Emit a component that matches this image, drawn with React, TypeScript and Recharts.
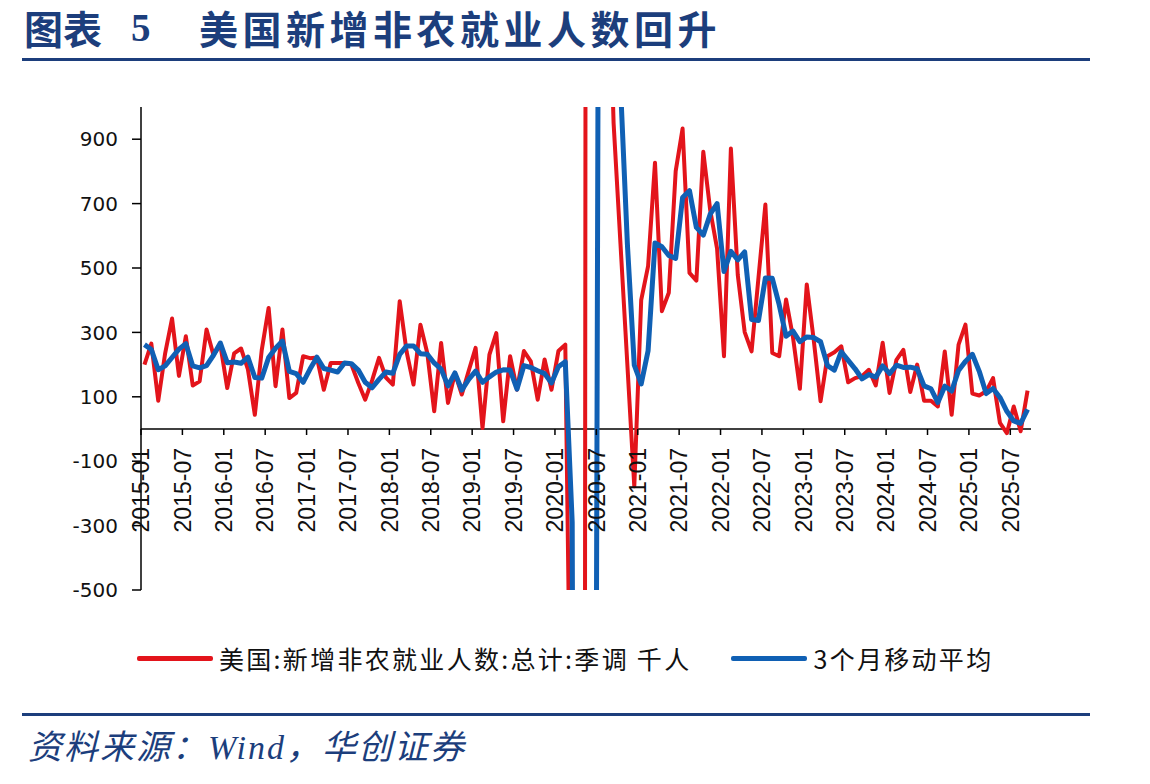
import React from 'react';
import { LineChart, Line, XAxis, YAxis, ReferenceLine } from 'recharts';

// Monthly change in US nonfarm payrolls (SA, thousands), Jan 2015 – Sep 2025
const payrolls = [
  200, 265, 88, 235, 343, 165, 288, 135, 148, 309, 230, 262,
  127, 235, 250, 185, 44, 245, 376, 133, 309, 96, 112, 226,
  220, 222, 122, 205, 205, 205, 200, 143, 91, 151, 221, 160,
  138, 397, 240, 138, 324, 235, 55, 267, 81, 174, 107, 181,
  252, 3, 231, 298, 24, 226, 122, 242, 210, 91, 216, 122,
  242, 262, -1373, -20477, 2794, 4637, 1474, 1674, 950, 574, 198, -178,
  400, 506, 827, 366, 423, 801, 933, 485, 461, 861, 680, 560,
  226, 871, 478, 301, 241, 470, 697, 236, 226, 402, 285, 125,
  449, 278, 86, 226, 238, 257, 145, 158, 164, 184, 135, 268,
  112, 215, 246, 115, 200, 88, 88, 70, 241, 44, 262, 324,
  110, 104, 117, 158, 19, -13, 70, -7, 119,
];

// 3-month moving average of the series above
const payrollsMA3 = [
  262, 247, 184, 196, 222, 248, 265, 196, 190, 197, 229, 267,
  206, 208, 204, 223, 160, 158, 222, 251, 273, 179, 172, 145,
  186, 223, 188, 183, 177, 205, 203, 183, 145, 128, 154, 177,
  173, 232, 258, 258, 234, 232, 205, 186, 134, 174, 121, 154,
  180, 145, 162, 177, 184, 183, 124, 197, 191, 181, 172, 143,
  193, 209, -290, -7196, -6352, -4349, 2968, 2595, 1366, 1066, 574, 198,
  140, 243, 578, 566, 539, 530, 719, 740, 626, 602, 667, 700,
  489, 552, 525, 550, 340, 337, 469, 468, 386, 288, 304, 271,
  286, 284, 271, 197, 183, 240, 213, 187, 156, 169, 161, 196,
  172, 198, 191, 192, 187, 134, 125, 82, 133, 118, 182, 210,
  232, 179, 110, 126, 98, 55, 25, 17, 61,
];

const tickMonths = [
  '2015-01', '2015-07', '2016-01', '2016-07', '2017-01', '2017-07',
  '2018-01', '2018-07', '2019-01', '2019-07', '2020-01', '2020-07',
  '2021-01', '2021-07', '2022-01', '2022-07', '2023-01', '2023-07',
  '2024-01', '2024-07', '2025-01', '2025-07',
];

const yTicks = [-500, -300, -100, 100, 300, 500, 700, 900];
const Y_MIN = -500;
const Y_MAX = 1000;

const START_YEAR = 2015;
const months = payrolls.map(
  (_, i) => `${START_YEAR + Math.floor(i / 12)}-${String((i % 12) + 1).padStart(2, '0')}`
);

const series = [
  { key: 'nfp', name: '美国:新增非农就业人数:总计:季调 千人', color: '#e3141b', width: 4 },
  { key: 'ma3', name: '3个月移动平均', color: '#1060b4', width: 5 },
];

// each month sits in the middle of its slot, ticks mark slot boundaries
const rows = months.map((m, i) => ({
  month: m,
  pos: i + 0.5,
  nfp: payrolls[i],
  ma3: payrollsMA3[i],
}));

const NAVY = '#1c3e7c';
const CHART_W = 1150;
const CHART_H = 620;
const MARGIN = { top: 107, right: 119, bottom: 10, left: 81 };
const Y_AXIS_W = 60;
const X_AXIS_H = 20;
const PLOT_H = CHART_H - MARGIN.top - MARGIN.bottom - X_AXIS_H;
const ZERO_Y = MARGIN.top + (PLOT_H * Y_MAX) / (Y_MAX - Y_MIN);

function MonthTick(props: any) {
  const { x, payload } = props;
  return (
    <g>
      <line x1={x} x2={x} y1={ZERO_Y} y2={ZERO_Y + 6} stroke="#000" strokeWidth={1.5} />
      <text
        transform={`translate(${x},${ZERO_Y + 19}) rotate(-90)`}
        textAnchor="end"
        dy="0.36em"
        fontSize={23}
        fontFamily="Liberation Sans, Arial, sans-serif"
        fill="#111"
      >
        {months[payload.value]}
      </text>
    </g>
  );
}

export default function App() {
  return (
    <div
      style={{
        position: 'absolute',
        left: 0,
        top: 0,
        width: 1150,
        height: 784,
        background: '#fff',
        overflow: 'hidden',
      }}
    >
      <div
        style={{
          position: 'absolute',
          left: 24,
          top: 8,
          fontSize: 39,
          lineHeight: '39px',
          fontWeight: 700,
          color: NAVY,
          fontFamily: '"Noto Sans CJK SC", sans-serif',
          whiteSpace: 'nowrap',
        }}
      >
        图表
      </div>
      <div
        style={{
          position: 'absolute',
          left: 131,
          top: 8,
          fontSize: 39,
          lineHeight: '39px',
          fontWeight: 700,
          color: NAVY,
          fontFamily: '"Liberation Serif", serif',
        }}
      >
        5
      </div>
      <div
        style={{
          position: 'absolute',
          left: 199,
          top: 8,
          fontSize: 39,
          lineHeight: '39px',
          letterSpacing: 4.5,
          fontWeight: 700,
          color: NAVY,
          fontFamily: '"Noto Sans CJK SC", sans-serif',
          whiteSpace: 'nowrap',
        }}
      >
        美国新增非农就业人数回升
      </div>
      <div style={{ position: 'absolute', left: 22, top: 58, width: 1068, height: 3, background: NAVY }} />

      <div style={{ position: 'absolute', left: 0, top: 0 }}>
        <LineChart width={CHART_W} height={CHART_H} data={rows} margin={MARGIN}>
          <XAxis
            type="number"
            dataKey="pos"
            domain={[0, months.length]}
            ticks={tickMonths.map((m) => months.indexOf(m))}
            interval={0}
            axisLine={false}
            tickLine={false}
            height={X_AXIS_H}
            tick={(p: any) => <MonthTick {...p} />}
          />
          <YAxis
            type="number"
            domain={[Y_MIN, Y_MAX]}
            allowDataOverflow
            ticks={yTicks}
            interval={0}
            width={Y_AXIS_W}
            tickSize={9}
            tickMargin={14}
            axisLine={{ stroke: '#000', strokeWidth: 1.5 }}
            tickLine={{ stroke: '#000', strokeWidth: 1.5 }}
            tick={{ fill: '#111', fontSize: 20, fontFamily: 'DejaVu Sans, sans-serif' }}
          />
          <ReferenceLine y={0} stroke="#000" strokeWidth={1.5} />
          {series.map((s) => (
            <Line
              key={s.key}
              type="linear"
              dataKey={s.key}
              name={s.name}
              stroke={s.color}
              strokeWidth={s.width}
              strokeLinejoin="round"
              dot={false}
              activeDot={false}
              isAnimationActive={false}
            />
          ))}
        </LineChart>
      </div>

      <div
        style={{
          position: 'absolute',
          left: 137,
          top: 643,
          display: 'flex',
          alignItems: 'center',
          gap: 40,
          fontSize: 25,
          lineHeight: '30px',
          letterSpacing: 2.3,
          color: '#111',
          fontFamily: '"Noto Sans CJK SC", sans-serif',
          whiteSpace: 'nowrap',
        }}
      >
        {series.map((s) => (
          <div key={s.key} style={{ display: 'flex', alignItems: 'center' }}>
            <div style={{ width: 76, height: 5, background: s.color, marginRight: 6, borderRadius: 2 }} />
            <span>{s.name}</span>
          </div>
        ))}
      </div>

      <div style={{ position: 'absolute', left: 22, top: 713, width: 1068, height: 3, background: NAVY }} />
      <div
        style={{
          position: 'absolute',
          left: 28,
          top: 731,
          fontSize: 34,
          lineHeight: '34px',
          letterSpacing: 2,
          fontStyle: 'italic',
          color: NAVY,
          fontFamily: '"Liberation Serif", "Noto Sans CJK SC", serif',
          whiteSpace: 'nowrap',
        }}
      >
        资料来源：Wind，华创证券
      </div>
    </div>
  );
}
